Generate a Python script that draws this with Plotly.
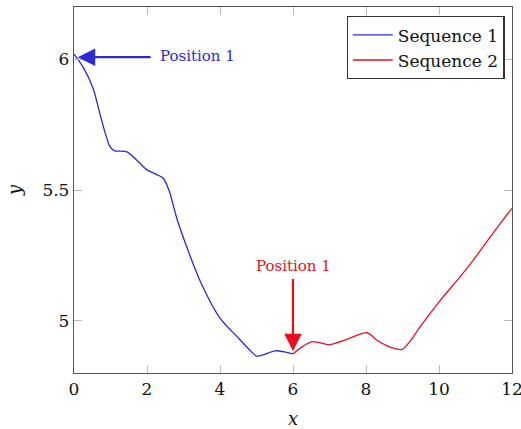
import plotly.graph_objects as go

seq1_x = [0, 0.25, 0.52, 0.75, 0.99, 1.12, 1.45, 1.75, 2.0, 2.25, 2.44, 2.6, 2.82, 2.99, 3.45, 4.0, 4.46, 4.8, 5.0, 5.2, 5.5, 5.8, 6.0]
seq1_y = [6.02, 5.97, 5.89, 5.77, 5.665, 5.65, 5.646, 5.61, 5.577, 5.56, 5.546, 5.5, 5.39, 5.32, 5.154, 5.01, 4.94, 4.89, 4.865, 4.87, 4.885, 4.88, 4.873]
seq2_x = [6.0, 6.25, 6.52, 6.75, 7.0, 7.5, 8.03, 8.3, 8.58, 8.8, 8.99, 9.2, 9.5, 10.03, 10.5, 10.93, 11.35, 11.75, 12.0]
seq2_y = [4.873, 4.9, 4.92, 4.915, 4.908, 4.93, 4.954, 4.925, 4.904, 4.893, 4.89, 4.92, 4.98, 5.077, 5.155, 5.23, 5.31, 5.385, 5.43]

x_ticks = [0, 2, 4, 6, 8, 10, 12]
y_ticks = [5, 5.5, 6]
y_tick_labels = ["5", "5.5", "6"]

blue = "#2a2ad6"
red = "#e8101e"
font2 = "DejaVu Serif"

fig = go.Figure()
fig.add_trace(go.Scatter(x=seq1_x, y=seq1_y, mode="lines", name="Sequence 1",
                         line=dict(color=blue, width=1.3, shape="spline", smoothing=0.8)))
fig.add_trace(go.Scatter(x=seq2_x, y=seq2_y, mode="lines", name="Sequence 2",
                         line=dict(color=red, width=1.3, shape="spline", smoothing=0.8)))

# arrows
fig.add_annotation(x=0.1, y=6.008, ax=2.14, ay=6.008, xref="x", yref="y", axref="x", ayref="y",
                   text="", showarrow=True, arrowhead=2, arrowsize=1.6, arrowwidth=2.2, arrowcolor=blue)
fig.add_annotation(x=2.3, y=6.013, xref="x", yref="y", text="Position 1", showarrow=False,
                   xanchor="left", font=dict(family=font2, size=15, color=blue))
fig.add_annotation(x=6.0, y=4.883, ax=6.0, ay=5.165, xref="x", yref="y", axref="x", ayref="y",
                   text="", showarrow=True, arrowhead=2, arrowsize=1.6, arrowwidth=2.2, arrowcolor=red)
fig.add_annotation(x=6.0, y=5.21, xref="x", yref="y", text="Position 1", showarrow=False,
                   font=dict(family=font2, size=15, color=red))

axis_common = dict(showgrid=False, zeroline=False, showline=True, linecolor="#555555", linewidth=1.3,
                   ticks="inside", ticklen=8, tickcolor="#bbbbbb", tickwidth=1, mirror="ticks",
                   tickfont=dict(family=font2, size=17, color="#111111"), automargin=False,
                   ticklabeloverflow="allow")

fig.update_xaxes(range=[0, 12], tickvals=x_ticks, ticktext=[str(v) for v in x_ticks],
                 title=dict(text="<i>x</i>", font=dict(family=font2, size=18, color="#111111"), standoff=18),
                 **axis_common)
fig.update_yaxes(range=[4.8, 6.2], tickvals=y_ticks, ticktext=y_tick_labels,
                 title=dict(text="<i>y</i>", font=dict(family=font2, size=18, color="#111111"), standoff=16),
                 **axis_common)

fig.update_layout(
    width=521, height=429,
    margin=dict(l=74, r=9, t=7, b=56),
    plot_bgcolor="white", paper_bgcolor="white",
    showlegend=True,
    legend=dict(x=0.983, y=0.975, xanchor="right", yanchor="top",
                bordercolor="#333333", borderwidth=1.2, bgcolor="white",
                font=dict(family=font2, size=17, color="#111111"),
                tracegroupgap=0, itemwidth=40),
)

fig.write_html("out.html")
